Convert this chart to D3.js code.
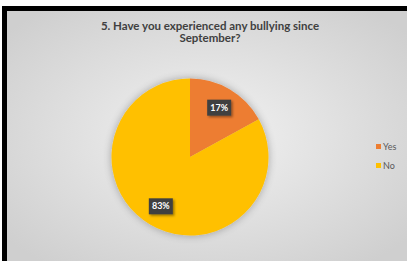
<!DOCTYPE html>
<html>
<head>
<meta charset="utf-8">
<script src="https://cdn.jsdelivr.net/npm/d3@7"></script>
<style>
  html, body { margin: 0; padding: 0; background: #fff; }
  svg { display: block; }
</style>
</head>
<body>
<svg width="407" height="261"></svg>
<script>
const categories = ["Yes", "No"];
const values = [17, 83];
const colors = ["#ED7D31", "#FFC000"];
const titleLines = ["5. Have you experienced any bullying since", "September?"];

const svg = d3.select("svg");
const defs = svg.append("defs");

const grad = defs.append("radialGradient")
  .attr("id", "bg")
  .attr("cx", "50%").attr("cy", "50%").attr("r", "65%");
grad.append("stop").attr("offset", "0%").attr("stop-color", "#f2f2f2");
grad.append("stop").attr("offset", "100%").attr("stop-color", "#cfcfcf");

const glow = defs.append("filter").attr("id", "glow")
  .attr("x", "-20%").attr("y", "-20%").attr("width", "140%").attr("height", "140%");
glow.append("feGaussianBlur").attr("in", "SourceAlpha").attr("stdDeviation", 4);
glow.append("feComponentTransfer").append("feFuncA").attr("type", "linear").attr("slope", 0.3);
const gm = glow.append("feMerge");
gm.append("feMergeNode");
gm.append("feMergeNode").attr("in", "SourceGraphic");

const shadow = defs.append("filter").attr("id", "shadow")
  .attr("x", "-30%").attr("y", "-30%").attr("width", "160%").attr("height", "160%");
shadow.append("feDropShadow").attr("dx", 1.5).attr("dy", 1.5).attr("stdDeviation", 1)
  .attr("flood-color", "#000").attr("flood-opacity", 0.4);

// frame
svg.append("rect").attr("x", 2).attr("y", 6).attr("width", 405).attr("height", 255).attr("fill", "#000");
svg.append("rect").attr("x", 7).attr("y", 11).attr("width", 400).attr("height", 250).attr("fill", "url(#bg)");

// title
svg.append("text")
  .attr("text-anchor", "middle")
  .attr("font-family", "Lato, 'Open Sans', sans-serif")
  .attr("font-weight", "bold")
  .attr("font-size", 11.5)
  .attr("fill", "#404040")
  .selectAll("tspan")
  .data(titleLines)
  .join("tspan")
  .attr("x", 210)
  .attr("y", (d, i) => 30 + i * 12)
  .text(d => d);

// pie
const cx = 190, cy = 157, r = 78.5;
const pie = d3.pie().sort(null).value(d => d);
const arcs = pie(values);
const arc = d3.arc().innerRadius(0).outerRadius(r);
const labelArc = d3.arc().innerRadius(r * 0.73).outerRadius(r * 0.73);

const g = svg.append("g").attr("transform", `translate(${cx},${cy})`);
g.append("g").attr("filter", "url(#glow)")
  .selectAll("path")
  .data(arcs)
  .join("path")
  .attr("d", arc)
  .attr("fill", (d, i) => colors[i]);

const labels = g.selectAll("g.lbl")
  .data(arcs)
  .join("g")
  .attr("class", "lbl")
  .attr("transform", d => {
    const [x, y] = labelArc.centroid(d);
    return `translate(${x},${y})`;
  });

labels.append("rect")
  .attr("x", -12).attr("y", -8).attr("width", 24).attr("height", 16)
  .attr("fill", "#404040")
  .attr("filter", "url(#shadow)");

labels.append("text")
  .attr("text-anchor", "middle")
  .attr("dy", "0.35em")
  .attr("font-family", "Lato, 'Open Sans', sans-serif")
  .attr("font-weight", "bold")
  .attr("font-size", 9)
  .attr("fill", "#fff")
  .text(d => d.data + "%");

// legend
const legend = svg.append("g")
  .selectAll("g")
  .data(categories)
  .join("g")
  .attr("transform", (d, i) => `translate(376,${147 + i * 19})`);

legend.append("rect")
  .attr("x", 0).attr("y", -3).attr("width", 5).attr("height", 5)
  .attr("fill", (d, i) => colors[i]);

legend.append("text")
  .attr("x", 7)
  .attr("dy", "0.35em")
  .attr("font-family", "Lato, 'Open Sans', sans-serif")
  .attr("font-size", 9)
  .attr("fill", "#595959")
  .text(d => d);
</script>
</body>
</html>
